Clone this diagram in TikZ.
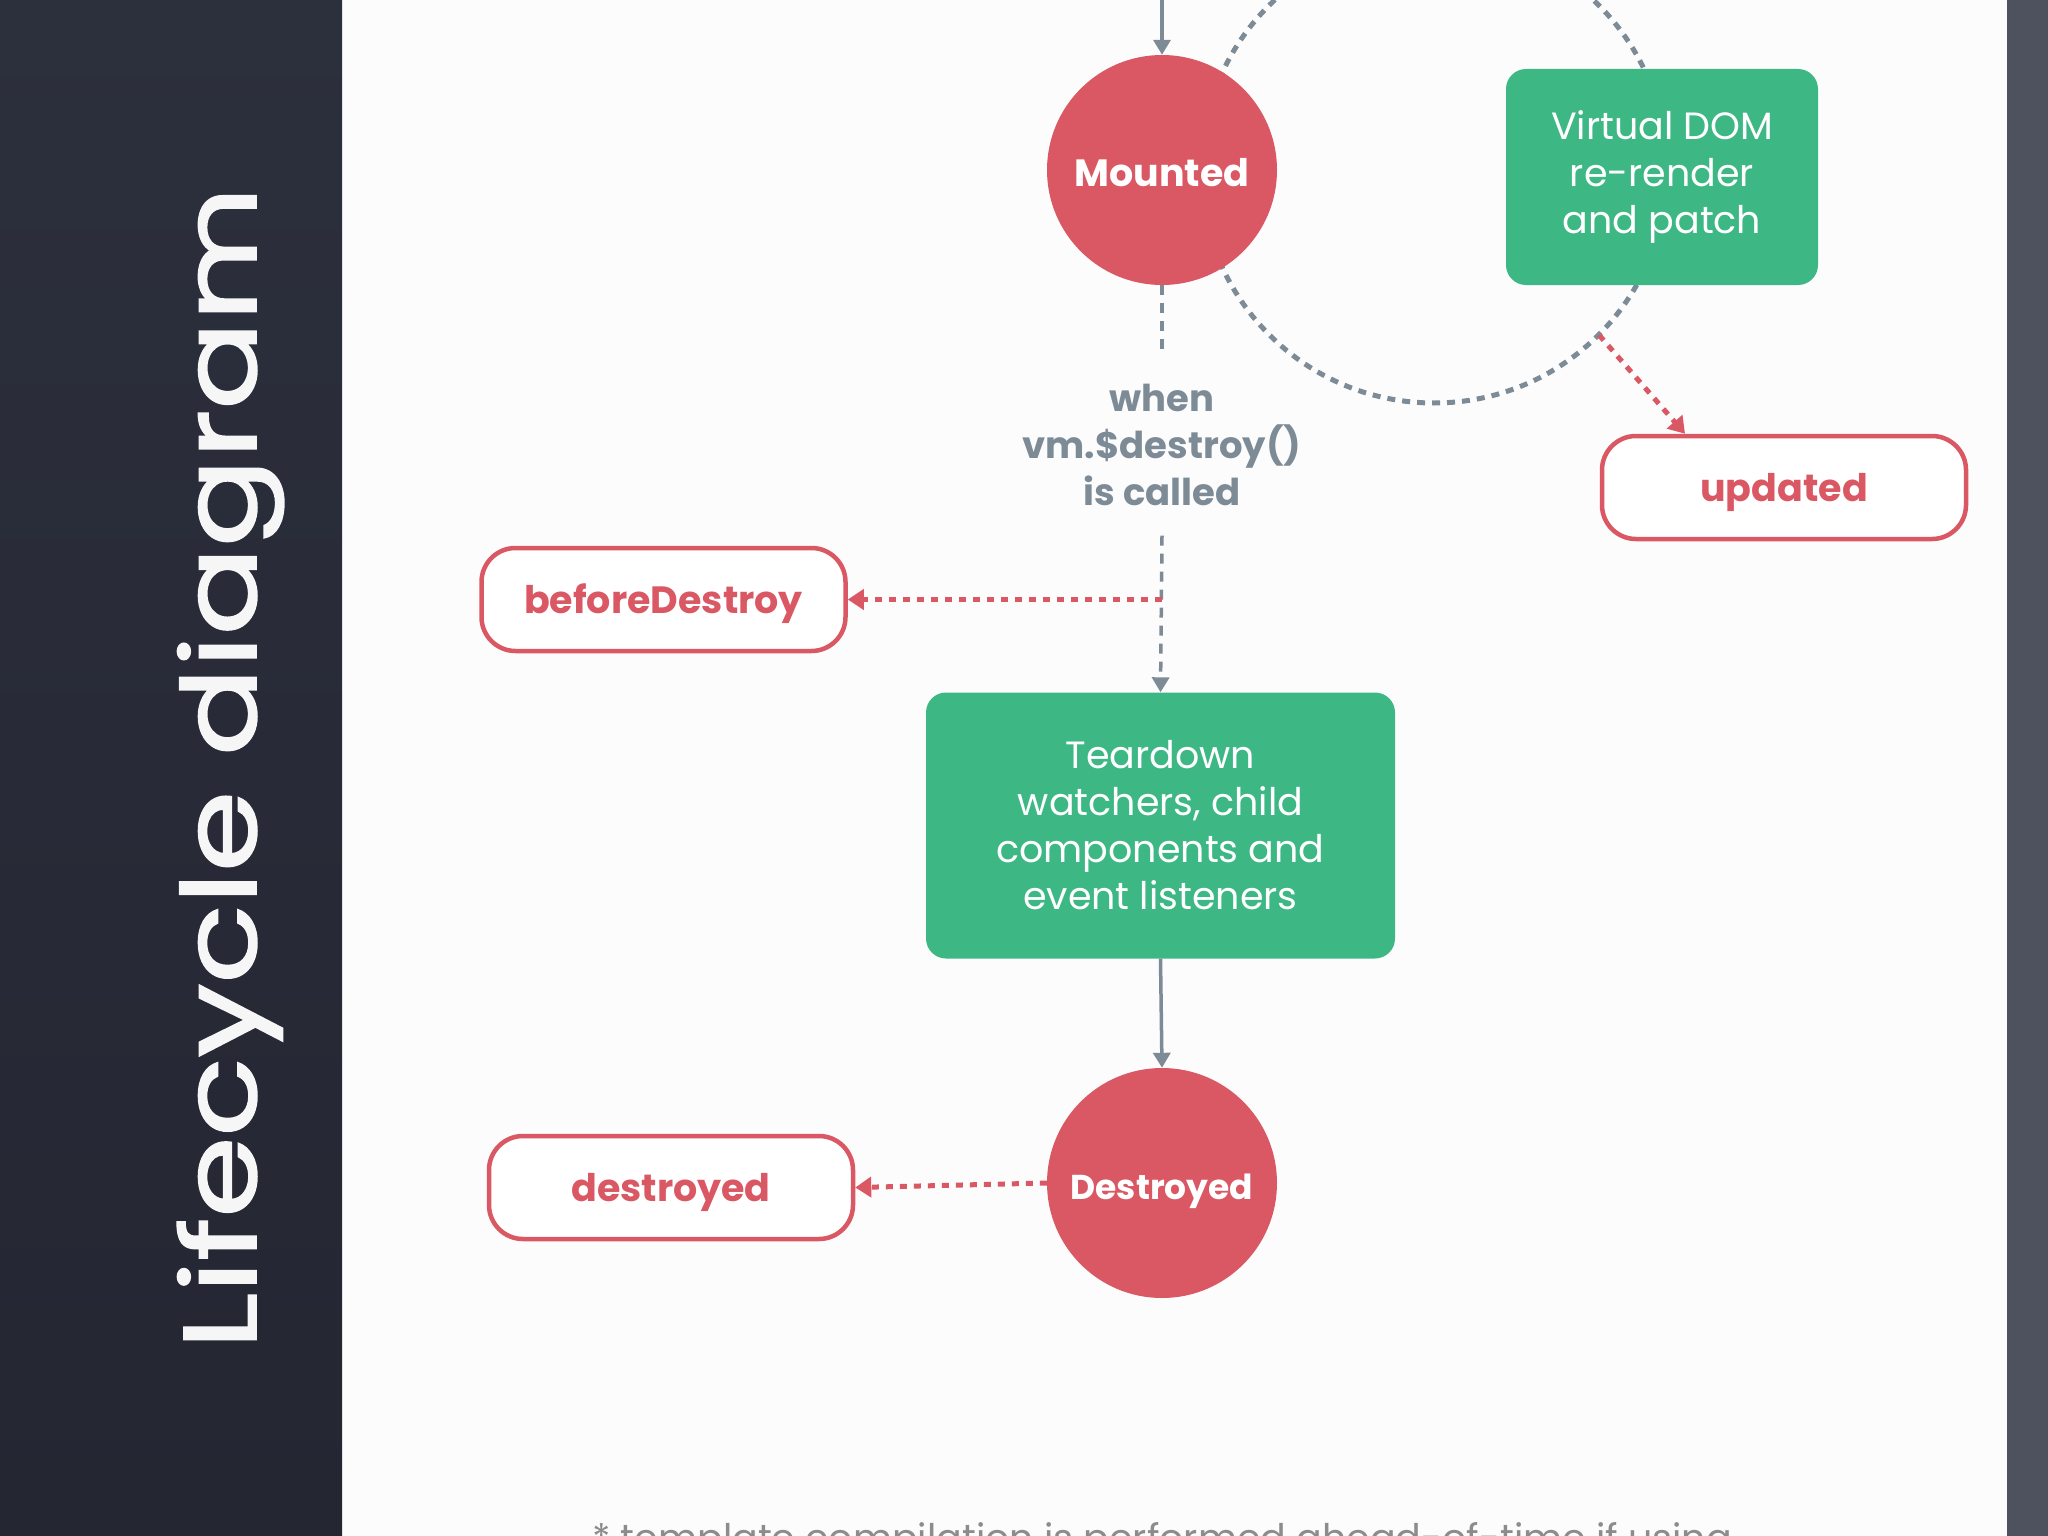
\documentclass[tikz,border=0pt]{standalone}
\usepackage{fontspec}
\setmainfont{Poppins}
\newfontfamily\chalkfont[FakeBold=1.6]{Poppins}
\usetikzlibrary{arrows.meta,shapes.geometric}
\definecolor{vred}{RGB}{217,88,100}
\definecolor{vgreen}{RGB}{61,184,133}
\definecolor{vgray}{RGB}{125,139,150}
\definecolor{pagebg}{RGB}{253,252,253}
\definecolor{stripc}{RGB}{77,82,94}
\definecolor{boardtop}{RGB}{44,47,60}
\definecolor{boardmid}{RGB}{60,64,79}
\definecolor{boardbot}{RGB}{36,38,50}
\definecolor{notegray}{RGB}{140,140,140}
\definecolor{chalk}{RGB}{246,246,246}
\begin{document}
\begin{tikzpicture}[x=1pt,y=-1pt,
  hookcircle/.style={circle, fill=vred, minimum size=230pt, inner sep=0pt, text=white,
    font=\bfseries\fontsize{38}{46}\selectfont},
  greenbox/.style={rectangle, rounded corners=20pt, fill=vgreen, text=white, align=center,
    inner sep=0pt, font=\fontsize{38}{47}\selectfont},
  hookbox/.style={rectangle, rounded corners=34pt, draw=vred, line width=4.5pt, fill=white,
    text=vred, minimum width=364pt, minimum height=103pt, inner sep=0pt,
    text height=30pt, text depth=3pt,
    font=\bfseries\fontsize{38}{46}\selectfont},
  whentext/.style={align=center, text=vgray, inner sep=0pt, minimum height=181pt,
    font=\bfseries\fontsize{37}{47}\selectfont},
  grayarrow/.style={draw=vgray, line width=3.5pt, -{Triangle[width=17pt,length=15pt]}},
  graydash/.style={draw=vgray, line width=3.5pt, dash pattern=on 10pt off 8pt},
  reddot/.style={draw=vred, line width=5pt, dash pattern=on 7pt off 7pt,
    -{Triangle[width=20pt,length=16pt]}},
  loopline/.style={draw=vgray, line width=5pt, dash pattern=on 8pt off 7pt},
  notetext/.style={text=notegray, inner sep=0pt, font=\fontsize{38}{42}\selectfont},
  titletext/.style={text=chalk, inner sep=0pt, font=\chalkfont\fontsize{120}{130}\selectfont}
]
\useasboundingbox (0,0) rectangle (2048,1536);
\clip (0,0) rectangle (2048,1536);
% backgrounds
\fill[pagebg] (342,0) rectangle (2007,1536);
\shade[top color=boardtop, middle color=boardmid, bottom color=boardbot] (0,0) rectangle (342,1536);
\fill[stripc] (2007,0) rectangle (2048,1536);

% update loop
\draw[loopline] (1434,170) circle[radius=233];

% nodes
\node[hookcircle, text height=34pt, text depth=1pt] (mounted) at (1162,170) {Mounted};
\node[greenbox, minimum width=312pt, minimum height=216pt] (vdom) at (1662,177) {Virtual DOM\\re-render\\and patch};
\node[hookbox] (updated) at (1784,487.5) {updated};
\node[whentext] (when) at (1162,445) {when\\vm.\$destroy()\\is called};
\node[hookbox] (bd) at (663.5,599.5) {beforeDestroy};
\node[greenbox, minimum width=469pt, minimum height=266pt] (teardown) at (1160.5,825.5) {Teardown\\watchers, child\\components and\\event listeners};
\node[hookcircle, text height=34pt, text depth=2pt, font=\bfseries\fontsize{34.5}{42}\selectfont] (destroyedC) at (1162,1183) {Destroyed};
\node[hookbox] (destroyed) at (671,1187.5) {destroyed};

% connectors
\coordinate (topin) at (1162,0);
\draw[grayarrow] (topin) -- (mounted.north);
\draw[graydash] (mounted.south) -- (when.north);
\draw[graydash, -{Triangle[width=17pt,length=15pt]}] (when.south) -- (teardown.north);
\coordinate (split) at (mounted.south |- bd.east);
\draw[reddot] (split) -- (bd.east);
\draw[grayarrow] (teardown.south) -- (destroyedC.north);
\draw[reddot] (destroyedC.west) -- (destroyed.east);
\coordinate (arcpt) at (1599,335);
\draw[reddot] (arcpt) -- ([xshift=-99pt]updated.north);

% footnote and title
\node[notetext, anchor=base] (note) at (1162,1551) {* template compilation is performed ahead-of-time if using};
\node[titletext, rotate=90, anchor=base] (title) at (256,768) {\scalebox{1.09}[0.86]{Lifecycle diagram}};
\end{tikzpicture}
\end{document}
